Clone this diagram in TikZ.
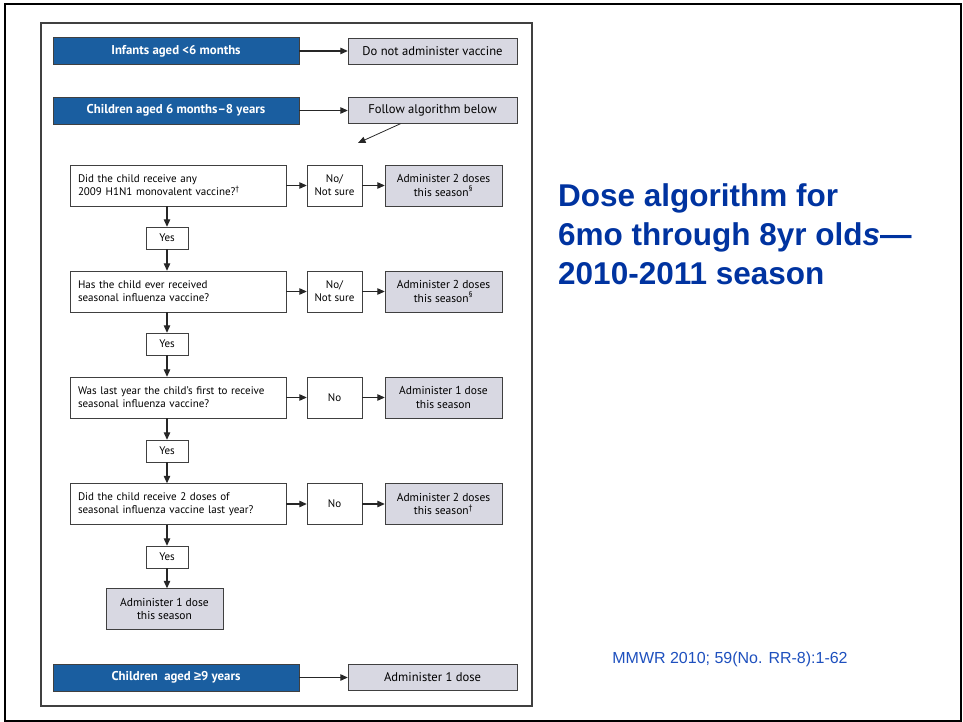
\documentclass[tikz,border=0pt]{standalone}
\usepackage{fontspec}
\setmainfont{Liberation Sans}
\newfontfamily\flowfont{PT Sans}
\newfontfamily\symfont{Liberation Sans}
\usetikzlibrary{arrows.meta}
\definecolor{boxblue}{RGB}{26,94,160}
\definecolor{boxgray}{RGB}{216,216,226}
\definecolor{edgegray}{RGB}{64,64,64}
\definecolor{titleblue}{RGB}{0,51,160}
\definecolor{citeblue}{RGB}{30,80,190}
\begin{document}
\begin{tikzpicture}[x=1pt,y=-1pt,
  every node/.style={font=\flowfont\fontsize{11}{13}\selectfont, inner sep=2pt},
  agebox/.style={draw=edgegray, fill=boxblue, text=white, minimum width=246pt, minimum height=27pt, font=\flowfont\bfseries\fontsize{12.8}{14}\selectfont},
  resbox/.style={draw=edgegray, fill=boxgray, minimum width=169pt, minimum height=26pt, font=\flowfont\fontsize{12.6}{14}\selectfont},
  qbox/.style={draw=edgegray, fill=white, minimum width=216pt, minimum height=41pt, text width=200pt, align=left, inner xsep=8pt},
  nobox/.style={draw=edgegray, fill=white, minimum width=55pt, minimum height=41pt, align=center},
  adbox/.style={draw=edgegray, fill=boxgray, minimum width=117pt, minimum height=41pt, align=center, font=\flowfont\fontsize{11.5}{13.5}\selectfont},
  yesbox/.style={draw=edgegray, fill=white, minimum width=42pt, minimum height=22pt},
  arr/.style={draw=black!85, line width=1.1pt, -{Triangle[length=7.5pt,width=6.5pt]}}
]
\useasboundingbox (0,0) rectangle (963,722);
% frames
\draw[line width=2pt] (5,4) rectangle (961,721);
\draw[draw=edgegray, line width=1.2pt] (41,23) rectangle (532,706);

% age rows
\node[agebox] (inf) at (176,51) {Infants aged <6 months};
\node[resbox] (dna) at (432.5,51) {Do not administer vaccine};
\node[agebox] (chi) at (176,110.5) {Children aged 6 months–8 years};
\node[resbox] (fol) at (432.5,110.5) {Follow algorithm below};
\coordinate (folend) at (358,143);
\draw[arr, line width=0.8pt] ([xshift=-32pt]fol.south) -- (folend);
\draw[arr] (inf) -- (dna);
\draw[arr] (chi) -- (fol);

% questions
\node[qbox] (q1) at (178,185.5) {Did the child receive any\\2009 H1N1 monovalent vaccine?\textsuperscript{†}};
\node[nobox] (n1) at (334.5,185.5) {No/\\Not sure};
\node[adbox] (a1) at (443.5,185.5) {Administer 2 doses\\this season\textsuperscript{§}};
\node[yesbox] (y1) at (167,238) {Yes};

\node[qbox] (q2) at (178,291.5) {Has the child ever received\\seasonal influenza vaccine?};
\node[nobox] (n2) at (334.5,291.5) {No/\\Not sure};
\node[adbox] (a2) at (443.5,291.5) {Administer 2 doses\\this season\textsuperscript{§}};
\node[yesbox] (y2) at (167,344) {Yes};

\node[qbox] (q3) at (178,397.5) {Was last year the child’s first to receive\\seasonal influenza vaccine?};
\node[nobox] (n3) at (334.5,397.5) {No};
\node[adbox] (a3) at (443.5,397.5) {Administer 1 dose\\this season};
\node[yesbox] (y3) at (167,451) {Yes};

\node[qbox] (q4) at (178,504) {Did the child receive 2 doses of\\seasonal influenza vaccine last year?};
\node[nobox] (n4) at (334.5,504) {No};
\node[adbox] (a4) at (443.5,504) {Administer 2 doses\\this season\textsuperscript{†}};
\node[yesbox] (y4) at (167,557) {Yes};

\node[adbox] (fin) at (164.5,609) {Administer 1 dose\\this season};

\foreach \i in {1,2,3,4}{
  \draw[arr] (q\i) -- (n\i);
  \draw[arr] (n\i) -- (a\i);
  \draw[arr] (q\i.south -| y\i) -- (y\i);
}
\draw[arr] (y1) -- (q2.north -| y1);
\draw[arr] (y2) -- (q3.north -| y2);
\draw[arr] (y3) -- (q4.north -| y3);
\draw[arr] (y4) -- (fin.north -| y4);

% bottom
\node[agebox] (nine) at (176,677.5) {Children\ \ aged {\symfont\bfseries ≥}9 years};
\node[resbox] (one) at (432.5,677.5) {Administer 1 dose};
\draw[arr] (nine) -- (one);

% title
\node[anchor=north west, align=left, text=titleblue, inner sep=0pt,
  font=\fontsize{31.5}{39}\selectfont\bfseries] (title) at (558,183)
  {Dose algorithm for\\6mo through 8yr old\textit{s}—\\2010-2011 season};
\node[text=citeblue, font=\fontsize{16}{18}\selectfont, inner sep=0pt] (cite) at (730,659) {MMWR 2010; 59(No. RR-8):1-62};
\end{tikzpicture}
\end{document}
